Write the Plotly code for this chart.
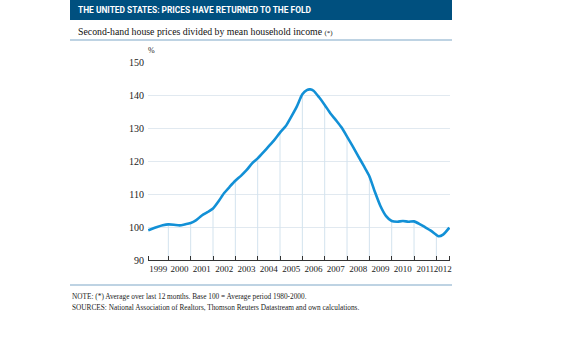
import numpy as np
import plotly.graph_objects as go

# Ratio of second-hand house prices to mean household income (base 100 = 1980-2000 average)
years = [1999.1, 1999.25, 1999.5, 1999.75,
         2000.0, 2000.25, 2000.5, 2000.75,
         2001.0, 2001.25, 2001.5, 2001.75,
         2002.0, 2002.25, 2002.5, 2002.75,
         2003.0, 2003.25, 2003.5, 2003.75,
         2004.0, 2004.25, 2004.5, 2004.75,
         2005.0, 2005.25, 2005.5, 2005.75,
         2006.0, 2006.2, 2006.35, 2006.5, 2006.75,
         2007.0, 2007.25, 2007.5, 2007.75,
         2008.0, 2008.25, 2008.5, 2008.75,
         2009.0, 2009.25, 2009.5, 2009.75,
         2010.0, 2010.25, 2010.5, 2010.75,
         2011.0, 2011.25, 2011.5, 2011.75,
         2012.0, 2012.1, 2012.3, 2012.58]
ratio = [99.0, 99.4, 100.0, 100.5,
         100.8, 100.7, 100.5, 100.8,
         101.2, 102.1, 103.5, 104.5,
         105.6, 107.8, 110.3, 112.2,
         114.0, 115.5, 117.2, 119.3,
         120.8, 122.6, 124.5, 126.4,
         128.6, 130.5, 133.4, 136.5,
         140.2, 141.5, 141.7, 141.3, 139.3,
         137.0, 134.5, 132.4, 130.2,
         127.4, 124.5, 121.5, 118.5,
         115.4, 110.6, 106.3, 103.3,
         101.8, 101.6, 101.8, 101.6,
         101.7, 100.9, 99.9, 98.9,
         97.6, 97.2, 97.7, 99.8]

year_labels = [str(y) for y in range(1999, 2013)]
year_marks = list(range(2000, 2013))
y_ticks = [90, 100, 110, 120, 130, 140, 150]

TITLE = "THE UNITED STATES: PRICES HAVE RETURNED TO THE FOLD"
SUBTITLE = "Second-hand house prices divided by mean household income <span style='font-size:7px'>(*)</span>"
NOTE = "NOTE: (*) Average over last 12 months. Base 100 = Average period 1980-2000."
SOURCES = "SOURCES: National Association of Realtors, Thomson Reuters Datastream and own calculations."

W, H = 586, 338
L, R, T, B = 148, 136, 62, 78
PW, PH = W - L - R, H - T - B


def px(x):
    return (x - L) / PW


def py(y):
    return (H - B - y) / PH


x_lo, x_hi = years[0], years[-1]
x_range = [1999.09, 2012.61]

# label positions: centred in each year's span
label_pos = []
for lab in year_labels:
    a = max(int(lab), x_lo)
    b = min(int(lab) + 1, x_hi)
    label_pos.append((a + b) / 2)

# drop lines from the axis up to the curve at each year boundary
drop_x, drop_y = [], []
for yr in year_marks:
    v = float(np.interp(yr, years, ratio))
    drop_x += [yr, yr, None]
    drop_y += [90, v, None]

BLUE = "#1290d6"
DARK = "#00507f"
SERIF = "Liberation Serif, Times New Roman, serif"

fig = go.Figure()
fig.add_trace(go.Scatter(x=drop_x, y=drop_y, mode="lines",
                         line=dict(color="#d3e3ee", width=1),
                         hoverinfo="skip", showlegend=False))
fig.add_trace(go.Scatter(x=years, y=ratio, mode="lines",
                         line=dict(color=BLUE, width=2.6, shape="spline", smoothing=0.6),
                         showlegend=False))

fig.update_layout(
    width=W, height=H,
    margin=dict(l=L, r=R, t=T, b=B),
    paper_bgcolor="white", plot_bgcolor="white",
    font=dict(family=SERIF, color="#222"),
    xaxis=dict(range=x_range, tickmode="array", tickvals=label_pos, ticktext=year_labels,
               ticks="", showgrid=False, zeroline=False, tickangle=0,
               showline=True, linecolor="#333", linewidth=1,
               tickfont=dict(size=9, color="#222", family=SERIF),
               minor=dict(tickmode="array", tickvals=[x_lo] + year_marks + [x_hi],
                          ticks="inside", ticklen=4, tickwidth=1, tickcolor="#333",
                          showgrid=False)),
    yaxis=dict(range=[90, 150], tickmode="array", tickvals=y_ticks,
               showgrid=True, gridcolor="#e1e9f0", gridwidth=1, zeroline=False,
               showline=False, ticks="", ticklabelstandoff=3,
               tickfont=dict(size=10, color="#222", family=SERIF)),
)

shapes = [
    dict(type="rect", xref="paper", yref="paper", x0=px(70), x1=px(452), y0=py(20), y1=py(0),
         fillcolor=DARK, line=dict(width=0), layer="below"),
    dict(type="line", xref="paper", yref="paper", x0=px(70), x1=px(452), y0=py(40), y1=py(40),
         line=dict(color="#7fa8c8", width=1.2)),
    dict(type="line", xref="paper", yref="paper", x0=px(70), x1=px(452), y0=py(285), y1=py(285),
         line=dict(color="#7fa8c8", width=1.2)),
]
fig.update_layout(shapes=shapes)

ann = [
    dict(text="<b>" + TITLE + "</b>", x=px(76), y=py(10.5), xanchor="left", yanchor="middle",
         font=dict(family="Roboto, DejaVu Sans Condensed, sans-serif", size=8.4, color="white")),
    dict(text=SUBTITLE, x=px(76), y=py(31), xanchor="left", yanchor="middle",
         font=dict(family=SERIF, size=9.8, color="#111")),
    dict(text="%", x=px(151), y=py(51), xanchor="center", yanchor="middle",
         font=dict(family=SERIF, size=8, color="#222")),
    dict(text=NOTE, x=px(70), y=py(296), xanchor="left", yanchor="middle",
         font=dict(family=SERIF, size=7.3, color="#222")),
    dict(text=SOURCES, x=px(70), y=py(307), xanchor="left", yanchor="middle",
         font=dict(family=SERIF, size=7.3, color="#222")),
]
for a in ann:
    a.update(xref="paper", yref="paper", showarrow=False)
fig.update_layout(annotations=ann)

fig.write_html("out.html")
